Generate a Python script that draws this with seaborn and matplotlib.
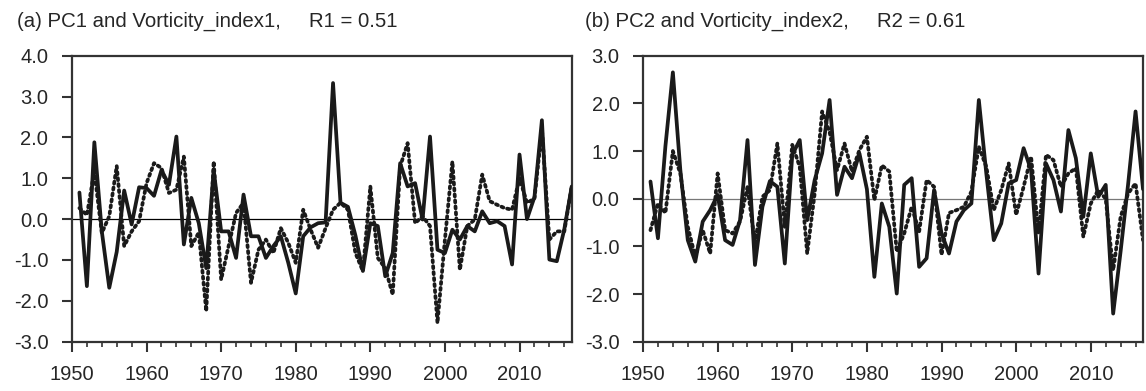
import numpy as np
import matplotlib
matplotlib.use("Agg")
import matplotlib.pyplot as plt
from matplotlib.ticker import MultipleLocator, FormatStrFormatter
import seaborn as sns

years = np.arange(1951, 2018)

# panel (a): PC1 (solid) and vorticity index 1 (dashed)
pc1 = [0.65, -1.64, 1.88, -0.30, -1.68, -0.80, 0.70, -0.13, 0.78, 0.76,
       0.57, 1.20, 0.84, 2.02, -0.62, 0.52, -0.10, -1.20, 1.20, -0.30,
       -0.30, -0.95, 0.60, -0.42, -0.42, -0.95, -0.66, -0.42, -1.07, -1.82,
       -0.42, -0.20, -0.10, -0.08, 3.33, 0.40, 0.30, -0.40, -1.27, -0.10,
       -0.17, -1.40, -0.83, 1.37, 0.80, 0.88, -0.01, 2.02, -0.75, -0.83,
       -0.26, -0.50, -0.17, -0.30, 0.19, -0.10, -0.05, -0.17, -1.11, 1.58,
       0.00, 0.54, 2.42, -0.99, -1.03, -0.25, 0.80]
vort1 = [0.27, 0.10, 1.17, -0.34, 0.07, 1.30, -0.66, -0.30, -0.05, 0.88,
         1.37, 1.25, 0.64, 0.72, 1.53, -0.66, -0.33, -2.25, 1.41, -1.48,
         -0.66, 0.15, 0.40, -1.56, -0.75, -0.50, -0.83, -0.22, -0.58, -1.07,
         0.23, -0.26, -0.70, -0.22, 0.23, 0.40, 0.23, -0.83, -1.27, 0.80,
         -0.95, -1.20, -1.85, 1.29, 1.86, -0.10, 0.07, -0.17, -2.54, -0.50,
         1.41, -1.24, -0.17, -0.01, 1.09, 0.44, 0.35, 0.27, 0.23, 1.00,
         0.40, 0.50, 2.20, -0.50, -0.30, -0.30, 0.80]

# panel (b): PC2 (solid) and vorticity index 2 (dashed)
pc2 = [0.36, -0.83, 1.10, 2.65, 0.60, -0.87, -1.32, -0.48, -0.24, 0.08,
       -0.87, -0.97, -0.45, 1.23, -1.39, -0.17, 0.37, 0.25, -1.36, 0.92,
       1.23, -0.45, 0.39, 0.95, 2.07, 0.08, 0.67, 0.43, 0.95, 0.20,
       -1.64, -0.10, -0.59, -1.99, 0.29, 0.43, -1.43, -1.25, 0.18, -0.73,
       -1.15, -0.48, -0.24, -0.10, 2.07, 0.53, -0.87, -0.52, 0.32, 0.39,
       1.06, 0.60, -1.57, 0.74, 0.39, -0.27, 1.44, 0.85, -0.38, 0.95,
       0.04, 0.29, -2.41, -1.10, 0.30, 1.83, 0.20]
vort2 = [-0.66, -0.10, -0.30, 1.00, 0.53, -0.59, -1.22, -0.66, -1.15, 0.53,
         -0.66, -0.73, -0.48, 0.25, -0.94, 0.04, 0.18, 1.16, -0.59, 1.13,
         0.67, -1.15, 0.11, 1.83, 1.40, 0.60, 1.16, 0.57, 1.02, 1.30,
         -0.03, 0.70, 0.57, -1.11, -0.73, -0.17, -0.69, 0.39, 0.25, -1.18,
         -0.30, -0.24, -0.17, 0.15, 1.09, 0.67, -0.24, 0.18, 0.74, -0.34,
         0.25, 0.88, -0.73, 0.92, 0.81, 0.25, 0.53, 0.64, -0.80, -0.10,
         0.18, 0.00, -1.50, -0.38, 0.11, 0.32, -0.87]

titles = ["(a) PC1 and Vorticity_index1,     R1 = 0.51",
          "(b) PC2 and Vorticity_index2,     R2 = 0.61"]

sns.set_style("ticks")
plt.rcParams["font.family"] = ["Liberation Sans", "DejaVu Sans"]
plt.rcParams["axes.unicode_minus"] = False

fig = plt.figure(figsize=(11.46, 3.91), dpi=100)
ax_a = fig.add_axes([0.0628, 0.1261, 0.4361, 0.7315])
ax_b = fig.add_axes([0.5611, 0.1261, 0.4363, 0.7315])

panels = [(ax_a, pc1, vort1, (-3, 4), "black"),
          (ax_b, pc2, vort2, (-3, 3), "#777777")]

for ax, solid, dashed, ylim, zcol in panels:
    ax.axhline(0, color=zcol, lw=0.9, zorder=1)
    sns.lineplot(x=years, y=solid, ax=ax, color="#1a1a1a", lw=2.7, zorder=3)
    line = sns.lineplot(x=years, y=dashed, ax=ax, color="#1a1a1a", lw=2.7,
                        zorder=2).lines[-1]
    line.set_linestyle((0, (0.55, 1.05)))
    line.set_dash_capstyle("round")
    ax.set_xlim(1950, 2017)
    ax.set_ylim(*ylim)
    ax.xaxis.set_major_locator(MultipleLocator(10))
    ax.xaxis.set_minor_locator(MultipleLocator(2))
    ax.yaxis.set_major_locator(MultipleLocator(1))
    ax.yaxis.set_major_formatter(FormatStrFormatter("%.1f"))
    ax.tick_params(axis="both", which="major", direction="out", length=7,
                   width=1.5, labelsize=14.5, color="#333333")
    ax.tick_params(axis="y", which="major", pad=10)
    ax.tick_params(axis="x", which="major", pad=10)
    ax.tick_params(axis="x", which="minor", direction="out", length=3.5,
                   width=1.2, color="#333333")
    for sp in ax.spines.values():
        sp.set_linewidth(1.6)
        sp.set_color("#333333")
    ax.set_xlabel("")
    ax.set_ylabel("")

fig.text(17 / 1146, 1 - 21 / 391, titles[0], fontsize=14.7, va="center", ha="left")
fig.text(585 / 1146, 1 - 21 / 391, titles[1], fontsize=14.7, va="center", ha="left")

fig.savefig("out.png", dpi=100, facecolor="white")
